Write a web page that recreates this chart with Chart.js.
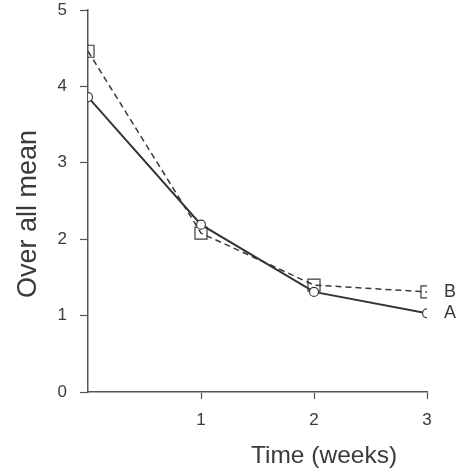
<!DOCTYPE html>
<html>
<head>
<meta charset="utf-8">
<script src="https://cdn.jsdelivr.net/npm/chart.js@4"></script>
<style>
  html, body { margin: 0; padding: 0; background: #fff; }
  #wrap { width: 459px; height: 470px; position: relative; }
</style>
</head>
<body>
<div id="wrap"><canvas id="meanChart"></canvas></div>
<script>
// valores
const weeks = [0, 1, 2, 3];
const seriesA = [3.86, 2.19, 1.31, 1.03];
const seriesB = [4.46, 2.08, 1.40, 1.31];
const seriesNames = ['A', 'B'];
const yTicks = [0, 1, 2, 3, 4, 5];
const xTicks = [1, 2, 3];

const ink = '#3a3a3a';
const font = '"Liberation Sans", Arial, sans-serif';

// etiquetas de serie y titulos de ejes
const annotations = {
    id: 'annotations',
    afterDraw(chart) {
        const ctx = chart.ctx;
        const x = chart.scales.x, y = chart.scales.y;
        ctx.save();
        ctx.fillStyle = ink;
        ctx.font = '18px ' + font;
        ctx.textBaseline = 'middle';
        ctx.textAlign = 'left';
        chart.data.datasets.forEach(ds => {
            const last = ds.data[ds.data.length - 1];
            ctx.fillText(ds.label, x.getPixelForValue(last.x) + 17, y.getPixelForValue(last.y));
        });
        ctx.textBaseline = 'alphabetic';
        ctx.textAlign = 'center';
        ctx.font = '24.5px ' + font;
        ctx.fillText('Time (weeks)', 324, 463);
        ctx.font = '27px ' + font;
        ctx.translate(36, 214);
        ctx.rotate(-Math.PI / 2);
        ctx.fillText('Over all mean', 0, 0);
        ctx.restore();
    }
};

const toPoints = vals => vals.map((v, i) => ({x: weeks[i], y: v}));

new Chart(document.getElementById('meanChart'), {
    type: 'line',
    data: {
        datasets: [
            {
                label: seriesNames[0],
                data: toPoints(seriesA),
                borderColor: '#333',
                borderWidth: 2,
                pointStyle: 'circle',
                pointRadius: 4.5,
                pointBorderWidth: 1.2,
                pointBackgroundColor: '#fff',
                pointBorderColor: ink,
                tension: 0
            },
            {
                label: seriesNames[1],
                data: toPoints(seriesB),
                borderColor: ink,
                borderWidth: 1.5,
                borderDash: [6, 4],
                pointStyle: 'rect',
                pointRadius: 8.5,
                pointBorderWidth: 1.2,
                pointBackgroundColor: 'rgba(255,255,255,0)',
                pointBorderColor: ink,
                tension: 0
            }
        ]
    },
    options: {
        responsive: true,
        maintainAspectRatio: false,
        animation: false,
        layout: { padding: { left: 0, right: 32, top: 10, bottom: 0 } },
        plugins: { legend: { display: false }, tooltip: { enabled: false } },
        scales: {
            x: {
                type: 'linear',
                min: 0,
                max: 3,
                afterBuildTicks: s => { s.ticks = xTicks.map(v => ({value: v})); },
                afterFit: s => { s.height = 78; },
                border: { display: true, color: '#555', width: 1.5 },
                grid: { drawOnChartArea: false, tickLength: 7, color: '#555', tickWidth: 1.2 },
                ticks: { color: ink, font: { family: font, size: 17 }, padding: 11 }
            },
            y: {
                min: 0,
                max: 5,
                afterBuildTicks: s => { s.ticks = yTicks.map(v => ({value: v})); },
                afterFit: s => { s.width = 88; s.paddingTop = 0; s.paddingBottom = 0; },
                border: { display: true, color: '#555', width: 1.5 },
                grid: { drawOnChartArea: false, tickLength: 8, color: '#555', tickWidth: 1.2 },
                ticks: { color: ink, font: { family: font, size: 17 }, padding: 13 }
            }
        }
    },
    plugins: [annotations]
});
</script>
</body>
</html>
